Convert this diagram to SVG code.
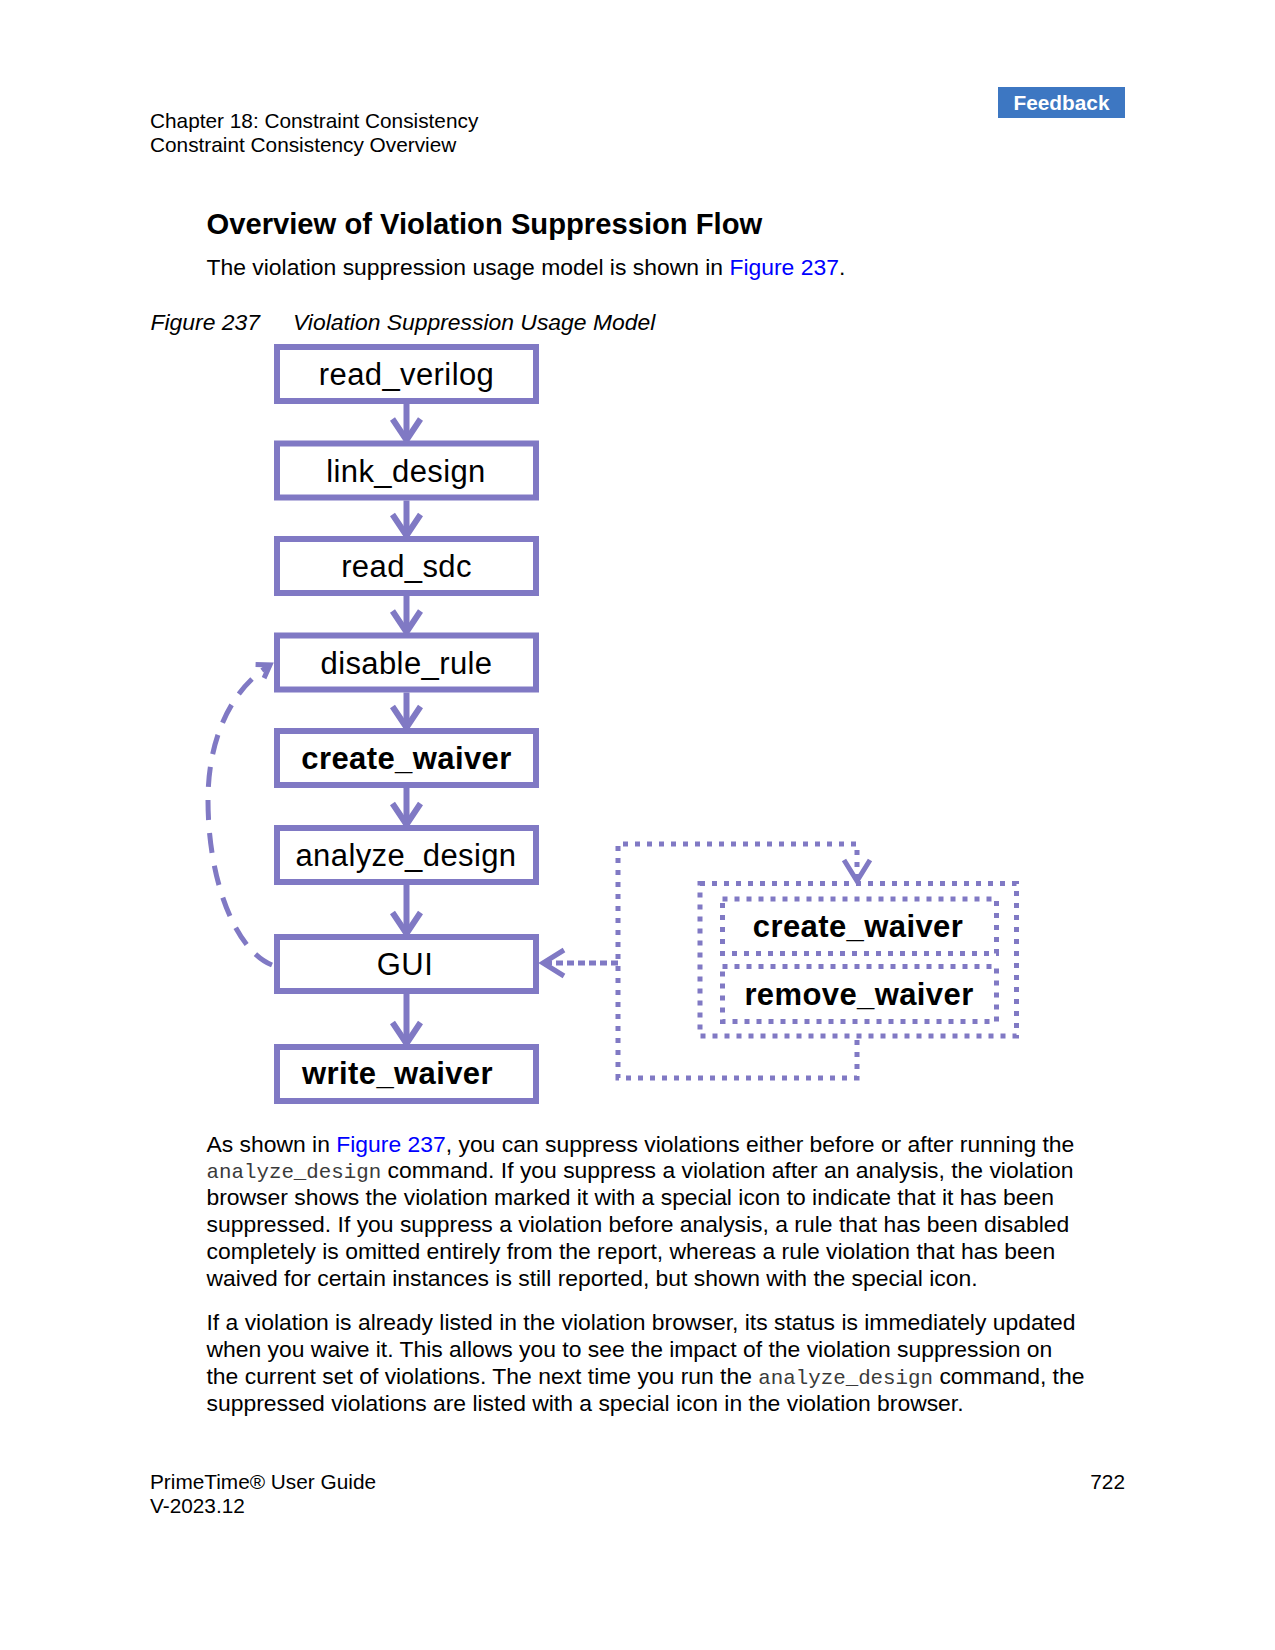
<svg xmlns="http://www.w3.org/2000/svg" width="1275" height="1650" viewBox="0 0 1275 1650">
<style>
.hdr{font-family:"Liberation Sans",Arial,sans-serif;font-size:20.8px;fill:#000}
.h1{font-family:"Liberation Sans",Arial,sans-serif;font-size:29.2px;font-weight:bold;fill:#000}
.body{font-family:"Liberation Sans",Arial,sans-serif;font-size:22.9px;fill:#000}
.cap{font-family:"Liberation Sans",Arial,sans-serif;font-size:22.9px;font-style:italic;fill:#000}
.mono{font-family:"Liberation Mono","Courier New",monospace;font-size:20.8px;fill:#3a3a3a}
.link{fill:#0000ff}
.box{fill:#fff;stroke:#8079c4;stroke-width:6}
.nt{font-family:"Liberation Sans",Arial,sans-serif;font-size:31px;fill:#000;text-anchor:middle;letter-spacing:0.4px}
.ntb{font-family:"Liberation Sans",Arial,sans-serif;font-size:31px;font-weight:bold;fill:#000;text-anchor:middle;letter-spacing:0.4px}
.flow{fill:none;stroke:#8079c4;stroke-width:6;marker-end:url(#chev)}
.dot{fill:none;stroke:#8079c4;stroke-width:5;stroke-dasharray:5 7}
.dash{fill:none;stroke:#8079c4;stroke-width:5;stroke-dasharray:20 13}
</style>
<defs>
<marker id="chev" markerUnits="userSpaceOnUse" viewBox="-25 -18 30 36" refX="0" refY="0" markerWidth="30" markerHeight="36" orient="auto" overflow="visible">
<path d="M -21 -14 L 0 0 L -21 14" fill="none" stroke="#8079c4" stroke-width="6"/>
</marker>
<marker id="chevd" markerUnits="userSpaceOnUse" viewBox="-25 -18 30 36" refX="0" refY="0" markerWidth="30" markerHeight="36" orient="auto" overflow="visible">
<path d="M -21 -13 L 0 0 L -21 13" fill="none" stroke="#8079c4" stroke-width="5"/>
</marker>
<marker id="chevs" markerUnits="userSpaceOnUse" viewBox="-16 -12 20 24" refX="0" refY="0" markerWidth="20" markerHeight="24" orient="auto" overflow="visible">
<path d="M -12 -8 L 0 0 L -12 8" fill="none" stroke="#8079c4" stroke-width="5"/>
</marker>
</defs>

<!-- page header -->
<rect x="998" y="87" width="127" height="31" fill="#3d77c2"/>
<text x="1061.5" y="109.5" font-family="Liberation Sans, Arial, sans-serif" font-size="20.8" font-weight="bold" fill="#fff" text-anchor="middle">Feedback</text>
<text class="hdr" x="150" y="127.5">Chapter 18: Constraint Consistency</text>
<text class="hdr" x="150" y="152">Constraint Consistency Overview</text>

<text class="h1" x="206.5" y="234">Overview of Violation Suppression Flow</text>
<text class="body" x="206.5" y="275">The violation suppression usage model is shown in <tspan class="link">Figure 237</tspan>.</text>
<text class="cap" x="150.5" y="330">Figure 237</text>
<text class="cap" x="293" y="330">Violation Suppression Usage Model</text>

<!-- connectors -->
<g id="connectors">
<path class="flow" d="M 406.5 404 V 440"/>
<path class="flow" d="M 406.5 500.5 V 535.5"/>
<path class="flow" d="M 406.5 596 V 632"/>
<path class="flow" d="M 406.5 692.5 V 727.5"/>
<path class="flow" d="M 406.5 788 V 824.5"/>
<path class="flow" d="M 406.5 885 V 933.5"/>
<path class="flow" d="M 406.5 994 V 1043.5"/>
<path class="dash" marker-end="url(#chevs)" d="M 272 965 C 235 950, 208 880, 208 800 C 208 740, 230 690, 270 665"/>
<path class="dot" marker-end="url(#chevd)" d="M 857 1040 V 1078 H 618 V 844 H 857 V 881"/>
<path fill="none" stroke="#8079c4" stroke-width="5" stroke-dasharray="7 4" marker-end="url(#chevd)" d="M 618 963 H 543"/>
</g>

<!-- nodes -->
<g id="read_verilog"><rect class="box" x="277" y="347" width="259" height="54"/><text class="nt" x="406.5" y="385">read_verilog</text></g>
<g id="link_design"><rect class="box" x="277" y="443.5" width="259" height="54"/><text class="nt" x="406" y="481.5">link_design</text></g>
<g id="read_sdc"><rect class="box" x="277" y="539" width="259" height="54"/><text class="nt" x="406.5" y="577">read_sdc</text></g>
<g id="disable_rule"><rect class="box" x="277" y="635.5" width="259" height="54"/><text class="nt" x="406.5" y="673.5">disable_rule</text></g>
<g id="create_waiver"><rect class="box" x="277" y="731" width="259" height="54"/><text class="ntb" x="406.5" y="768.5">create_waiver</text></g>
<g id="analyze_design"><rect class="box" x="277" y="828" width="259" height="54"/><text class="nt" x="406" y="865.5">analyze_design</text></g>
<g id="gui"><rect class="box" x="277" y="937" width="259" height="54"/><text class="nt" x="405" y="974.5">GUI</text></g>
<g id="write_waiver"><rect class="box" x="277" y="1047" width="259" height="54"/><text class="ntb" x="397.5" y="1084">write_waiver</text></g>

<g id="waiver_commands">
<rect class="dot" x="700" y="883.5" width="316.5" height="152.5"/>
<g id="create_waiver_gui"><rect class="dot" x="722.5" y="899" width="274" height="54.5"/><text class="ntb" x="858" y="936.5">create_waiver</text></g>
<g id="remove_waiver_gui"><rect class="dot" x="722.5" y="966.5" width="274" height="55"/><text class="ntb" x="859" y="1005">remove_waiver</text></g>
</g>

<!-- body text -->
<text class="body" x="206.5" y="1151.5">As shown in <tspan class="link">Figure 237</tspan>, you can suppress violations either before or after running the</text>
<text class="body" x="206.5" y="1178.3"><tspan class="mono">analyze_design</tspan> command. If you suppress a violation after an analysis, the violation</text>
<text class="body" x="206.5" y="1205">browser shows the violation marked it with a special icon to indicate that it has been</text>
<text class="body" x="206.5" y="1231.8">suppressed. If you suppress a violation before analysis, a rule that has been disabled</text>
<text class="body" x="206.5" y="1258.8">completely is omitted entirely from the report, whereas a rule violation that has been</text>
<text class="body" x="206.5" y="1285.6">waived for certain instances is still reported, but shown with the special icon.</text>

<text class="body" x="206.5" y="1330">If a violation is already listed in the violation browser, its status is immediately updated</text>
<text class="body" x="206.5" y="1356.8">when you waive it. This allows you to see the impact of the violation suppression on</text>
<text class="body" x="206.5" y="1383.6">the current set of violations. The next time you run the <tspan class="mono">analyze_design</tspan> command, the</text>
<text class="body" x="206.5" y="1410.5">suppressed violations are listed with a special icon in the violation browser.</text>

<!-- footer -->
<text class="hdr" x="150" y="1488.5">PrimeTime® User Guide</text>
<text class="hdr" x="150" y="1513.3">V-2023.12</text>
<text class="hdr" x="1125" y="1488.5" text-anchor="end">722</text>
</svg>
